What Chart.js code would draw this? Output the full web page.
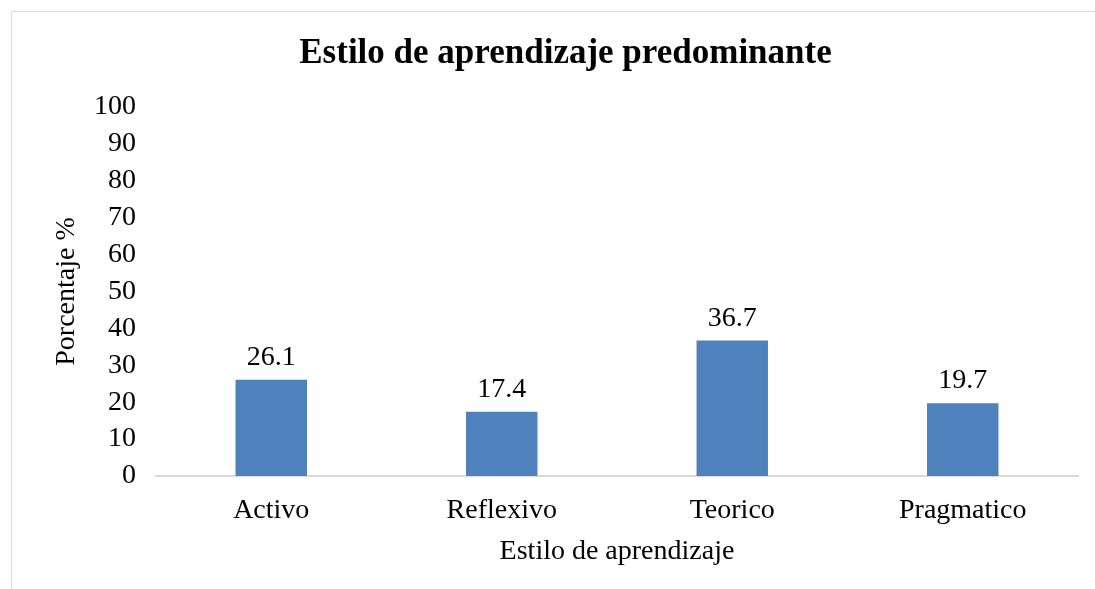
<!DOCTYPE html>
<html>
<head>
<meta charset="utf-8">
<script src="https://cdn.jsdelivr.net/npm/chart.js@4.4.1/dist/chart.umd.min.js"></script>
<style>
  html, body { margin: 0; padding: 0; background: #fff; }
  #wrap { position: relative; width: 1095px; height: 589px; overflow: hidden; }
  #frame { position: absolute; left: 11px; top: 11px; width: 1200px; height: 700px;
           border-top: 1px solid #d9d9d9; border-left: 1px solid #d9d9d9; }
  canvas { position: absolute; left: 0; top: 0; }
</style>
</head>
<body>
<div id="wrap">
  <div id="frame"></div>
  <canvas id="chart" width="1095" height="589"></canvas>
</div>
<script>
// Datos del gráfico
const categorias = ['Activo', 'Reflexivo', 'Teorico', 'Pragmatico'];
const porcentajes = [26.1, 17.4, 36.7, 19.7];
const titulo = 'Estilo de aprendizaje predominante';
const tituloX = 'Estilo de aprendizaje';
const tituloY = 'Porcentaje %';

const serif = "'Liberation Serif', 'Times New Roman', serif";

// Etiquetas de valor encima de las barras
const etiquetasValor = {
  id: 'etiquetasValor',
  afterDatasetsDraw(chart) {
    const ctx = chart.ctx;
    const meta = chart.getDatasetMeta(0);
    ctx.save();
    ctx.font = '28px ' + serif;
    ctx.fillStyle = '#000';
    ctx.textAlign = 'center';
    ctx.textBaseline = 'alphabetic';
    meta.data.forEach((bar, i) => {
      ctx.fillText(porcentajes[i].toFixed(1), bar.x, bar.y - 15);
    });
    ctx.restore();
  }
};

new Chart(document.getElementById('chart').getContext('2d'), {
  type: 'bar',
  data: {
    labels: categorias,
    datasets: [{
      data: porcentajes,
      backgroundColor: '#4f81bd',
      borderWidth: 0,
      barPercentage: 0.31,
      categoryPercentage: 1
    }]
  },
  options: {
    responsive: false,
    animation: false,
    layout: { padding: { left: 53, right: 17, top: 33, bottom: 23 } },
    plugins: {
      legend: { display: false },
      tooltip: { enabled: false },
      title: {
        display: true,
        text: titulo,
        color: '#000',
        font: { family: serif, size: 35, weight: 'bold' },
        padding: { top: 0, bottom: 32 }
      }
    },
    scales: {
      x: {
        grid: { display: false, drawTicks: false },
        border: { display: true, color: '#d9d9d9', width: 2 },
        ticks: { color: '#000', font: { family: serif, size: 28, lineHeight: 1 }, padding: 21 },
        title: { display: true, text: tituloX, color: '#000', font: { family: serif, size: 28, lineHeight: 1 }, padding: { top: -8, bottom: 0 } }
      },
      y: {
        min: 0,
        max: 100,
        grid: { display: false, drawTicks: false },
        border: { display: false },
        ticks: { stepSize: 10, autoSkip: false, color: '#000', font: { family: serif, size: 28 }, padding: 20 },
        title: { display: true, text: tituloY, color: '#000', font: { family: serif, size: 28, lineHeight: 1 }, padding: { top: 0, bottom: -7 } }
      }
    }
  },
  plugins: [etiquetasValor]
});
</script>
</body>
</html>
